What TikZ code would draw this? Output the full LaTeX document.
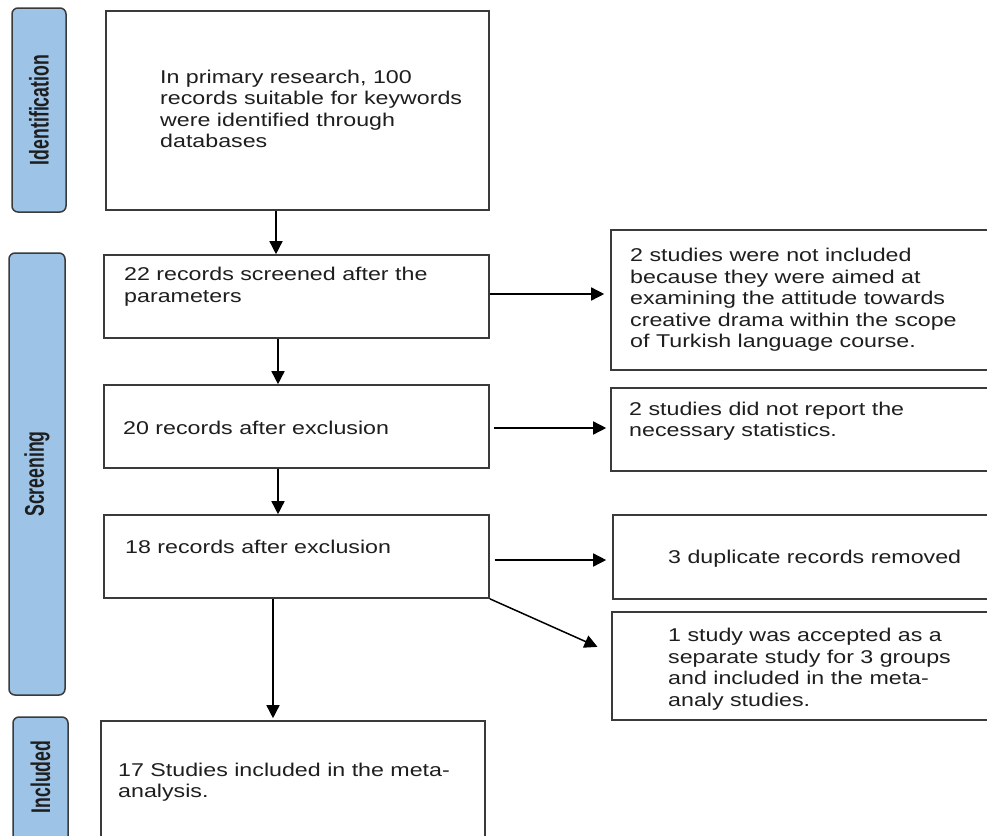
\documentclass[tikz,border=0pt]{standalone}
\usepackage{fontspec}
\setmainfont{Liberation Sans}[FakeStretch=1.255]
\newfontfamily\sidefont{Liberation Sans}[FakeStretch=0.655]
\usetikzlibrary{arrows.meta}
\definecolor{sideblue}{HTML}{9DC3E6}
\definecolor{edgegray}{HTML}{3A3A3A}
\definecolor{textgray}{HTML}{1E1E1E}
\tikzset{
  flowbox/.style={draw=edgegray, line width=1.6pt, fill=white, inner sep=0pt},
  sidebox/.style={draw=edgegray, line width=1.5pt, fill=sideblue, rounded corners=6pt, inner sep=0pt},
  sidelabel/.style={rotate=90, text=textgray, font=\sidefont\bfseries\fontsize{27pt}{30pt}\selectfont, inner sep=0pt},
  boxtext/.style={anchor=north west, inner sep=0pt, align=left, text=textgray, font=\fontsize{18.5pt}{21.5pt}\selectfont},
  arr/.style={draw=black, line width=1.5pt, -{Triangle[length=13pt,width=13pt]}}
}
\begin{document}
\begin{tikzpicture}[x=1pt,y=-1pt]
\useasboundingbox (0,0) rectangle (987,835);
\fill[white] (0,0) rectangle (987,835);

% side phase boxes
\node[sidebox, minimum width=54pt, minimum height=204pt] (s1) at (39,110) {};
\node[sidebox, minimum width=56pt, minimum height=442pt] (s2) at (37,474) {};
\node[sidebox, minimum width=55pt, minimum height=133pt] (s3) at (40.5,783.5) {};
\node[sidelabel] (l1) at (s1.center) {Identification};
\node[sidelabel] (l2) at (s2.center) {Screening};
\node[sidelabel] (l3) at (40.5,777) {Included};

% main boxes
\node[flowbox, minimum width=383pt, minimum height=199pt] (b1) at (297.5,110.5) {};
\node[flowbox, minimum width=385pt, minimum height=83pt] (b2) at (296.5,296.5) {};
\node[flowbox, minimum width=385pt, minimum height=83pt] (b3) at (296.5,426.5) {};
\node[flowbox, minimum width=385pt, minimum height=83pt] (b4) at (296.5,556.5) {};
\node[flowbox, minimum width=384pt, minimum height=129pt] (b5) at (293,785.5) {};

% right boxes
\node[flowbox, minimum width=389pt, minimum height=140pt] (r1) at (805.5,300) {};
\node[flowbox, minimum width=389pt, minimum height=83pt] (r2) at (805.5,429.5) {};
\node[flowbox, minimum width=387pt, minimum height=84pt] (r3) at (806.5,557) {};
\node[flowbox, minimum width=388pt, minimum height=108pt] (r4) at (806,666) {};

% texts
\node[boxtext] (t1) at (160,69.5) {In primary research, 100\\records suitable for keywords\\were identified through\\databases};
\node[boxtext] (t2) at (124,267) {22 records screened after the\\parameters};
\node[boxtext] (t3) at (123,421) {20 records after exclusion};
\node[boxtext] (t4) at (125,540) {18 records after exclusion};
\node[boxtext] (t5) at (118,762.5) {17 Studies included in the meta-\\analysis.};
\node[boxtext] (u1) at (630,248) {2 studies were not included\\because they were aimed at\\examining the attitude towards\\creative drama within the scope\\of Turkish language course.};
\node[boxtext] (u2) at (629,401.5) {2 studies did not report the\\necessary statistics.};
\node[boxtext] (u3) at (668,549.5) {3 duplicate records removed};
\node[boxtext] (u4) at (668,628) {1 study was accepted as a\\separate study for 3 groups\\and included in the meta-\\analy studies.};

% column coordinates for the vertical arrows
\coordinate (cA) at (276,0);
\coordinate (cB) at (278,0);
\coordinate (cC) at (273,0);

% vertical arrows
\draw[arr] (b1.south -| cA) -- (b2.north -| cA);
\draw[arr] (b2.south -| cB) -- (b3.north -| cB);
\draw[arr] (b3.south -| cB) -- (b4.north -| cB);
\draw[arr, shorten >=2pt] (b4.south -| cC) -- (b5.north -| cC);

% horizontal arrows
\draw[arr, shorten >=6pt] ([yshift=2.5pt]b2.east) -- ([yshift=2.5pt]b2.east -| r1.west);
\draw[arr, shorten <=4pt, shorten >=4pt] ([yshift=-1.5pt]b3.east) -- ([yshift=-1.5pt]b3.east -| r2.west);
\draw[arr, shorten <=5pt, shorten >=6pt] ([yshift=-3.5pt]b4.east) -- ([yshift=-3.5pt]b4.east -| r3.west);
\draw[arr, shorten >=15pt] (b4.south east) -- ([yshift=13pt]r4.west);
\end{tikzpicture}
\end{document}
